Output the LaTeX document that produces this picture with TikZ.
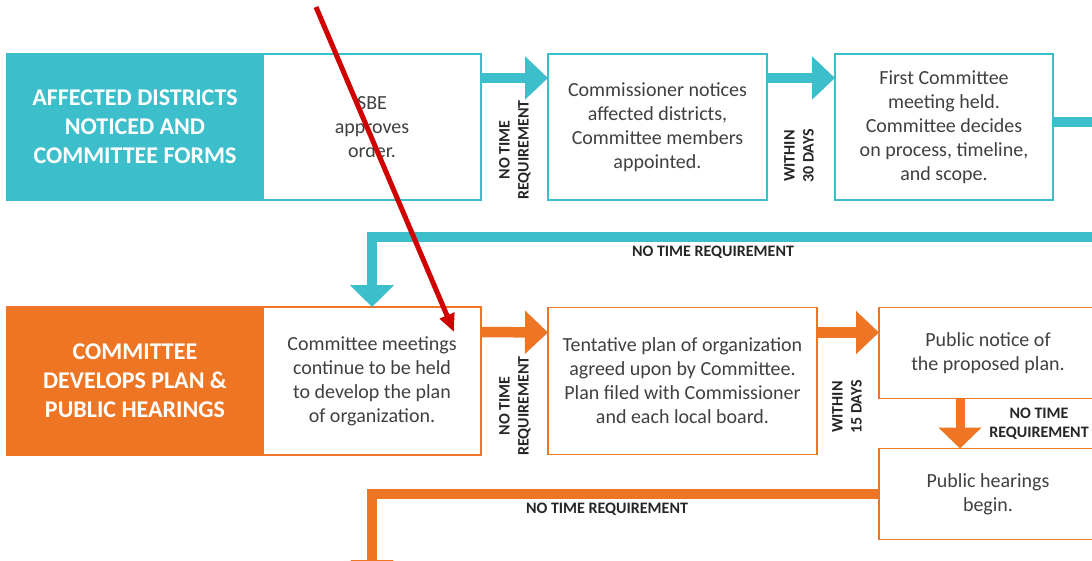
\documentclass[tikz,border=0pt]{standalone}
\usepackage{fontspec}
\setmainfont{Carlito}
\usetikzlibrary{arrows.meta, positioning}
\definecolor{aqua}{RGB}{60,190,203}
\definecolor{tangerine}{RGB}{238,117,36}
\definecolor{inkgray}{RGB}{64,64,64}
\definecolor{markred}{RGB}{208,0,0}

\begin{document}
\begin{tikzpicture}[x=1pt, y=-1pt,
  headbox/.style={draw, rectangle, line width=1.5pt, minimum width=256pt, align=center, text=white,
    font=\fontsize{24}{29}\selectfont\bfseries, inner sep=0pt, outer sep=0pt},
  stepbox/.style={draw, rectangle, line width=1.5pt, fill=white, align=center, text=inkgray,
    font=\fontsize{20}{24}\selectfont, inner sep=0pt, outer sep=0pt},
  flow/.style={line width=10.5pt, -{Triangle[length=23pt, width=42pt]}},
  gap/.style={font=\fontsize{16}{19}\selectfont\bfseries, align=center, text=black!85}]
  \path[use as bounding box, clip] (0,0) rectangle (1092,560);

  % Top row: districts noticed, committee forms
  \node[headbox, draw=aqua, fill=aqua, minimum height=146pt] (forms) at (135,127) {AFFECTED DISTRICTS\\NOTICED AND\\COMMITTEE FORMS};
  \node[stepbox, draw=aqua, minimum width=218pt, minimum height=146pt, right=0pt of forms] (sbe) {SBE\\approves\\order.};
  \node[stepbox, draw=aqua, minimum width=219pt, minimum height=146pt, right=67pt of sbe] (notice) {Commissioner notices\\affected districts,\\Committee members\\appointed.};
  \node[stepbox, draw=aqua, minimum width=218pt, minimum height=146pt, right=68pt of notice] (first) {First Committee\\meeting held.\\Committee decides\\on process, timeline,\\and scope.};

  % Bottom row: plan and public hearings
  \node[headbox, draw=tangerine, fill=tangerine, minimum height=148pt] (plan) at (135,381) {COMMITTEE\\DEVELOPS PLAN \&\\PUBLIC HEARINGS};
  \node[stepbox, draw=tangerine, minimum width=218pt, minimum height=148pt, right=0pt of plan] (meet) {Committee meetings\\continue to be held\\to develop the plan\\of organization.};
  \node[stepbox, draw=tangerine, minimum width=269pt, minimum height=147pt, right=67pt of meet] (tent) {Tentative plan of organization\\agreed upon by Committee.\\Plan filed with Commissioner\\and each local board.};
  \node[stepbox, draw=tangerine, minimum width=218pt, minimum height=91pt, right=62pt of tent.north east, anchor=north west] (pubnot) {Public notice of\\the proposed plan.};
  \node[stepbox, draw=tangerine, minimum width=218pt, minimum height=91pt, below=50pt of pubnot] (hear) {Public hearings\\begin.};
  \coordinate (exit) at (372,582);

  % Arrows
  \draw[aqua, flow] ([yshift=-24pt]sbe.north east) -- ([yshift=-24pt]notice.north west);
  \draw[aqua, flow] ([yshift=-24pt]notice.north east) -- ([yshift=-24pt]first.north west);
  \draw[aqua, flow, line width=10pt, -{Triangle[length=22pt, width=43pt]}] ([yshift=-68pt]first.north east) -- (1115,122) -- (1115,237) -| (meet.north);
  \draw[tangerine, flow] ([yshift=-25pt]meet.north east) -- ([yshift=-25pt]tent.north west);
  \draw[tangerine, flow] ([yshift=-25pt]tent.north east) -- ([yshift=-25pt]pubnot.north west);
  \draw[tangerine, flow, line width=9pt, -{Triangle[length=21pt, width=42pt]}] ([xshift=-28pt]pubnot.south) -- ([xshift=-28pt]hear.north);
  \draw[tangerine, flow, line width=10pt, -{Triangle[length=22pt, width=42pt]}] (hear.west) -| (exit);

  % Time labels
  \node[gap, rotate=90] (wait1) at (515,150) {NO TIME\\REQUIREMENT};
  \node[gap, rotate=90] (wait2) at (799,156) {WITHIN\\30 DAYS};
  \node[gap] (wait3) at (713,252) {NO TIME REQUIREMENT};
  \node[gap, rotate=90] (wait4) at (515,406) {NO TIME\\REQUIREMENT};
  \node[gap, rotate=90] (wait5) at (847,407) {WITHIN\\15 DAYS};
  \node[gap] (wait6) at (1039,424) {NO TIME\\REQUIREMENT};
  \node[gap] (wait7) at (607,509) {NO TIME REQUIREMENT};

  % Red pointer
  \coordinate (pen) at (316,7);
  \coordinate (nib) at (454,332);
  \draw[markred, line width=5pt, -{Triangle[length=18pt, width=15pt]}] (pen) -- (nib);
\end{tikzpicture}
\end{document}
